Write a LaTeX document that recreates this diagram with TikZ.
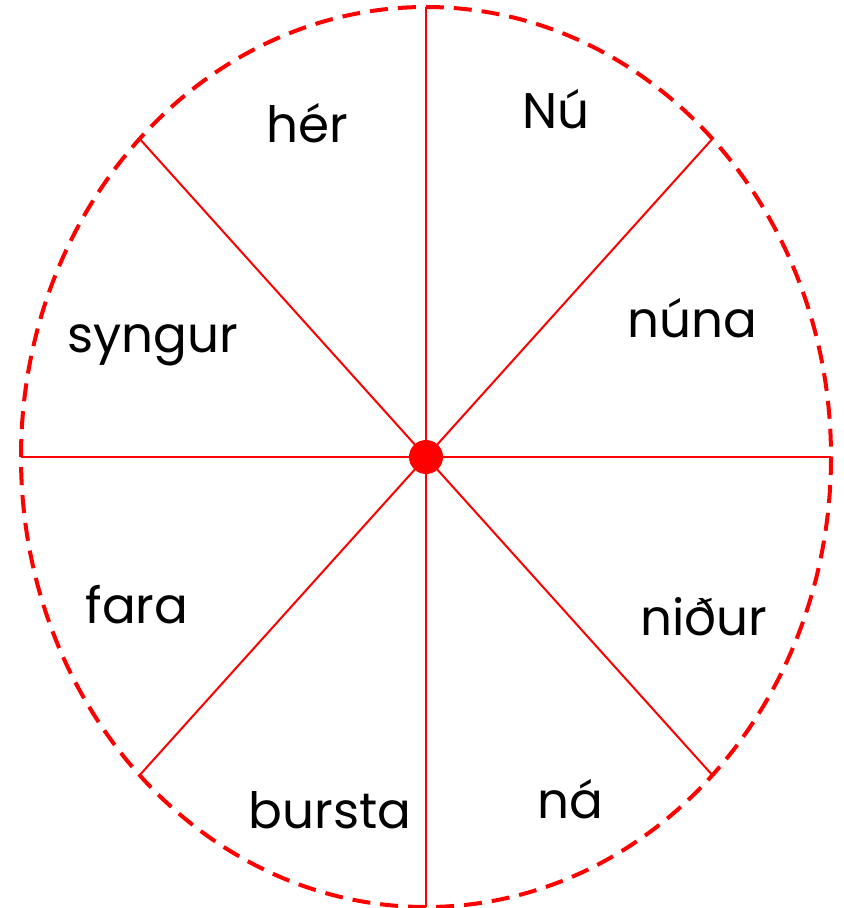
\documentclass[tikz,border=0pt]{standalone}
\usepackage{fontspec}
\setmainfont{Poppins}
\usetikzlibrary{calc}
\begin{document}
\begin{tikzpicture}[x=0.5pt,y=-0.5pt,
  spoke/.style={draw=red, line width=1pt},
  rim/.style={draw=red, line width=2pt, dash pattern=on 9pt off 5pt},
  word/.style={font=\fontsize{25}{30}\selectfont, anchor=base, inner sep=0pt}]
\useasboundingbox (0,0) rectangle (843,908);
\coordinate (c) at (426,457);
\draw[rim] (c) ellipse [x radius=405, y radius=450];
\foreach \a in {0,45,...,315}{
  \coordinate (p\a) at ($(426,457)+({405*cos(\a)},{-450*sin(\a)})$);
}
\foreach \a in {0,45,...,315}{
  \draw[spoke] (c) -- (p\a);
}
\fill[red] (c) circle (17);
\node[word] (w1) at (556,129) {Nú};
\node[word] (w2) at (692,338) {núna};
\node[word] (w3) at (704,635) {niður};
\node[word] (w4) at (570,818) {ná};
\node[word] (w5) at (330,828) {bursta};
\node[word] (w6) at (137,623) {fara};
\node[word] (w7) at (153,353) {syngur};
\node[word] (w8) at (307,143) {hér};
\end{tikzpicture}
\end{document}
